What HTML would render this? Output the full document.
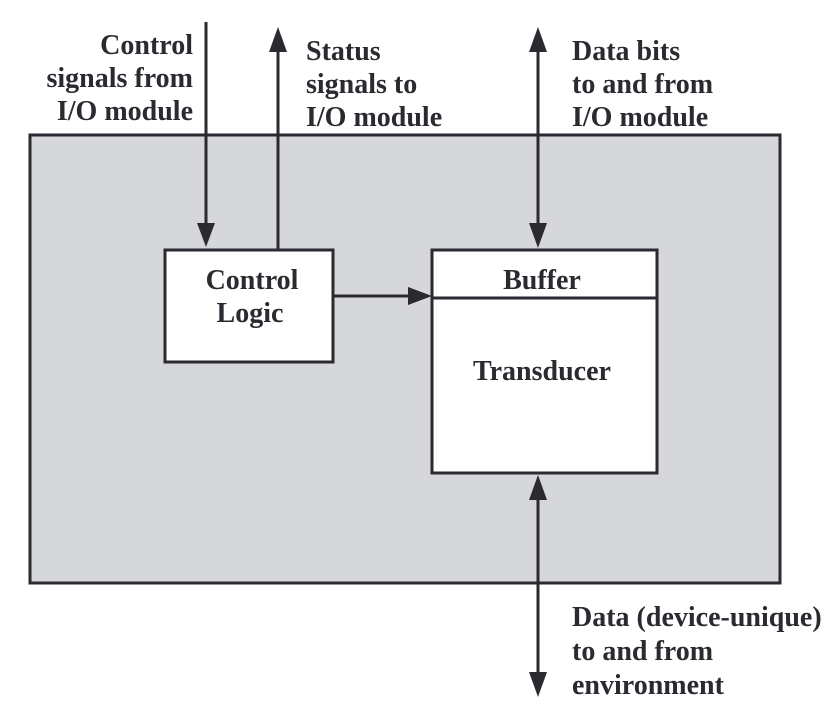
<!DOCTYPE html>
<html><head><style>
body{margin:0;width:836px;height:708px;background:#fff;overflow:hidden}
svg{display:block}
text{font-family:"Liberation Serif",serif;font-weight:bold;font-size:28px;fill:#2a2a30}
</style></head><body>
<svg width="836" height="708" viewBox="0 0 836 708">
<rect x="30" y="135" width="750" height="448" fill="#d6d7d9" stroke="#2a2a30" stroke-width="3"/>
<rect x="165" y="250" width="168" height="112" fill="#fff" stroke="#2a2a30" stroke-width="3"/>
<rect x="432" y="250" width="225" height="223" fill="#fff" stroke="#2a2a30" stroke-width="3"/>
<line x1="432" y1="298" x2="657" y2="298" stroke="#2a2a30" stroke-width="3"/>
<g stroke="#2a2a30" stroke-width="3" fill="none">
<line x1="206" y1="22" x2="206" y2="235"/>
<line x1="278" y1="250" x2="278" y2="40"/>
<line x1="538" y1="40" x2="538" y2="235"/>
<line x1="538" y1="490" x2="538" y2="680"/>
<line x1="333" y1="296" x2="418" y2="296"/>
</g>
<g fill="#2a2a30">
<path d="M197,223 L215,223 L206,247 Z"/>
<path d="M269,52 L287,52 L278,27 Z"/>
<path d="M529,52 L547,52 L538,27 Z"/>
<path d="M529,223 L547,223 L538,248 Z"/>
<path d="M529,500 L547,500 L538,475 Z"/>
<path d="M529,672 L547,672 L538,697 Z"/>
<path d="M408,287 L408,305 L432,296 Z"/>
</g>
<g text-anchor="end">
<text x="193" y="54">Control</text>
<text x="193" y="87">signals from</text>
<text x="193" y="120">I/O module</text>
</g>
<text x="306" y="60">Status</text>
<text x="306" y="93">signals to</text>
<text x="306" y="126">I/O module</text>
<text x="572" y="60">Data bits</text>
<text x="572" y="93">to and from</text>
<text x="572" y="126">I/O module</text>
<g text-anchor="middle">
<text x="252" y="289">Control</text>
<text x="250" y="322">Logic</text>
<text x="542" y="289">Buffer</text>
<text x="542" y="380">Transducer</text>
</g>
<text x="572" y="626">Data (device-unique)</text>
<text x="572" y="660">to and from</text>
<text x="572" y="694">environment</text>
</svg>
</body></html>
